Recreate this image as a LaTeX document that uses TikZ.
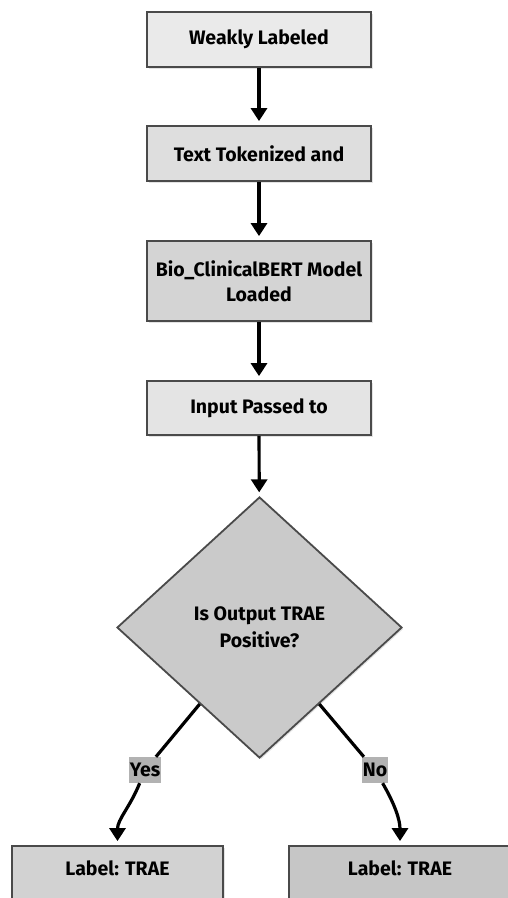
\documentclass[tikz,border=0pt]{standalone}
\usepackage{fontspec}
\setmainfont{Fira Sans}
\usetikzlibrary{arrows.meta,shapes.geometric,shadows}
\definecolor{bordc}{HTML}{4A4A4A}
\definecolor{cA}{RGB}{234,234,234}
\definecolor{cB}{RGB}{222,222,222}
\definecolor{cC}{RGB}{212,212,212}
\definecolor{cD}{RGB}{228,228,228}
\definecolor{cE}{RGB}{202,202,202}
\definecolor{cF}{RGB}{210,210,210}
\definecolor{cG}{RGB}{198,198,198}
\definecolor{cL}{RGB}{178,178,178}
\tikzset{
  box/.style={draw=bordc, line width=1.8pt, font=\bfseries\fontsize{19.5}{25}\selectfont,
    align=center, inner sep=0pt, minimum width=224pt,
    drop shadow={shadow xshift=1.5pt, shadow yshift=-1.5pt, fill=black!22}},
  dec/.style={box, shape=diamond, minimum width=285pt, minimum height=261pt, aspect=1},
  lab/.style={fill=cL, inner sep=0pt, font=\bfseries\fontsize{19.5}{20}\selectfont},
  conn/.style={line width=3.2pt, black},
  arr/.style={conn, -{Triangle[width=16pt,length=13pt]}, shorten >=4pt},
}
\begin{document}
\begin{tikzpicture}[x=1pt,y=-1pt]
\useasboundingbox (0,0) rectangle (508,898);
\clip (0,0) rectangle (508,898);
\node[box, fill=cA, minimum height=55pt] (b1) at (259,39.5) {Weakly Labeled};
\node[box, fill=cB, minimum height=55pt] (b2) at (259,153.5) {Text Tokenized and};
\node[box, fill=cC, minimum height=80pt] (b3) at (259,281) {Bio\_ClinicalBERT Model\\Loaded};
\node[box, fill=cD, minimum height=54pt] (b4) at (259,408) {Input Passed to};
\node[dec, fill=cE] (d) at (259.5,627.5) {Is Output TRAE\\[2pt]Positive?};
\node[box, fill=cF, minimum width=211pt, minimum height=64pt, text depth=20pt] (lb) at (117.5,878) {Label: TRAE};
\node[box, fill=cG, minimum width=222pt, minimum height=64pt, text depth=20pt] (rb) at (400,878) {Label: TRAE};
\node[lab, minimum width=32pt, minimum height=26pt] (yes) at (145,770) {Yes};
\node[lab, minimum width=26pt, minimum height=26pt] (no) at (375,770) {No};
\draw[arr] (b1) -- (b2);
\draw[arr] (b2) -- (b3);
\draw[arr] (b3) -- (b4);
\draw[arr] (b4) -- (d);
\draw[conn] (d.-128) -- (yes);
\draw[conn] (d.-52) -- (no);
\draw[arr] (yes) to[out=-112, in=90] (lb.north);
\draw[arr] (no) to[out=-60, in=90] (rb.north);
\end{tikzpicture}
\end{document}
